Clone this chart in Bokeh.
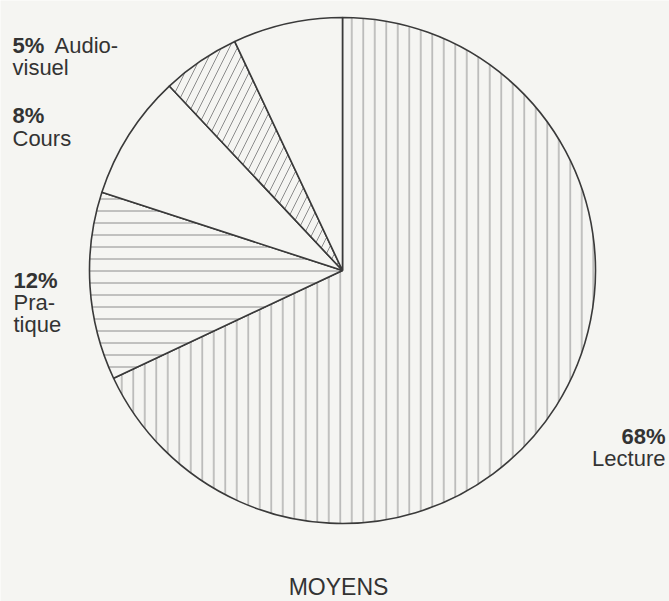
import math
from bokeh.plotting import figure
from bokeh.models import ColumnDataSource, Range1d
from bokeh.core.properties import value
from bokeh.embed import file_html
from bokeh.resources import INLINE

# ---- data ----
categories = ["Lecture", "Pratique", "Cours", "Audiovisuel", "Autres"]
shares = [68, 12, 8, 5, 7]
chart_title = "MOYENS"
# label text lines (name split as in the original)
name_lines = {
    "Lecture": ["Lecture"],
    "Pratique": ["Pra-", "tique"],
    "Cours": ["Cours"],
    "Audiovisuel": ["Audio-", "visuel"],
}

# ---- styles ----
hatches = ["|", "-", " ", "/", " "]
hatch_scales = [11.5, 12, 12, 16, 12]
bg = "#f5f5f2"
ink = "#333333"
FONT = value("Liberation Sans")

W, H = 669, 601
# ranges expressed in reference-image pixels
p = figure(width=W, height=H, x_range=Range1d(0, W), y_range=Range1d(0, H),
           output_backend="svg", toolbar_location=None, min_border=0)
p.axis.visible = False
p.grid.visible = False
p.outline_line_color = None
p.background_fill_color = bg
p.border_fill_color = bg


def Y(sy):
    return H - sy


cx, cy, r = 342, Y(270), 253

total = sum(shares)
cum = 0
starts, ends = [], []
for s in shares:
    starts.append(math.pi / 2 - 2 * math.pi * cum / total)
    cum += s
    ends.append(math.pi / 2 - 2 * math.pi * cum / total)

src = ColumnDataSource(dict(start=starts, end=ends, hatch=hatches,
                            hscale=hatch_scales, cat=categories))
p.wedge(x=cx, y=cy, radius=r, start_angle="start", end_angle="end",
        direction="clock", source=src, fill_color=bg, line_color="#3a3a3a",
        line_width=1.6, hatch_pattern="hatch", hatch_color="#8c8c8c",
        hatch_weight=1, hatch_scale="hscale")

pct = {c: f"{v}%" for c, v in zip(categories, shares)}

FS = "22px"
OFF = 7  # rendered baseline sits lower than requested

def txt(x, sy, t, bold=False, align="left", size=FS):
    p.text(x=[x], y=[Y(sy - OFF)], text=[t], text_font=FONT, text_font_size=size,
           text_font_style="bold" if bold else "normal", text_color=ink,
           text_align=align, text_baseline="alphabetic")

# Audiovisuel
txt(12, 52, pct["Audiovisuel"], bold=True)
txt(54, 52, name_lines["Audiovisuel"][0])
txt(12, 74, name_lines["Audiovisuel"][1])
# Cours
txt(12, 122, pct["Cours"], bold=True)
txt(12, 145, name_lines["Cours"][0])
# Pratique
txt(13, 287, pct["Pratique"], bold=True)
txt(13, 309, name_lines["Pratique"][0])
txt(13, 331, name_lines["Pratique"][1])
# Lecture
txt(665, 443, pct["Lecture"], bold=True, align="right")
txt(665, 465, name_lines["Lecture"][0], align="right")
# title
txt(338, 593, chart_title, align="center", size="23px")

open("out.html", "w").write(file_html(p, INLINE))
